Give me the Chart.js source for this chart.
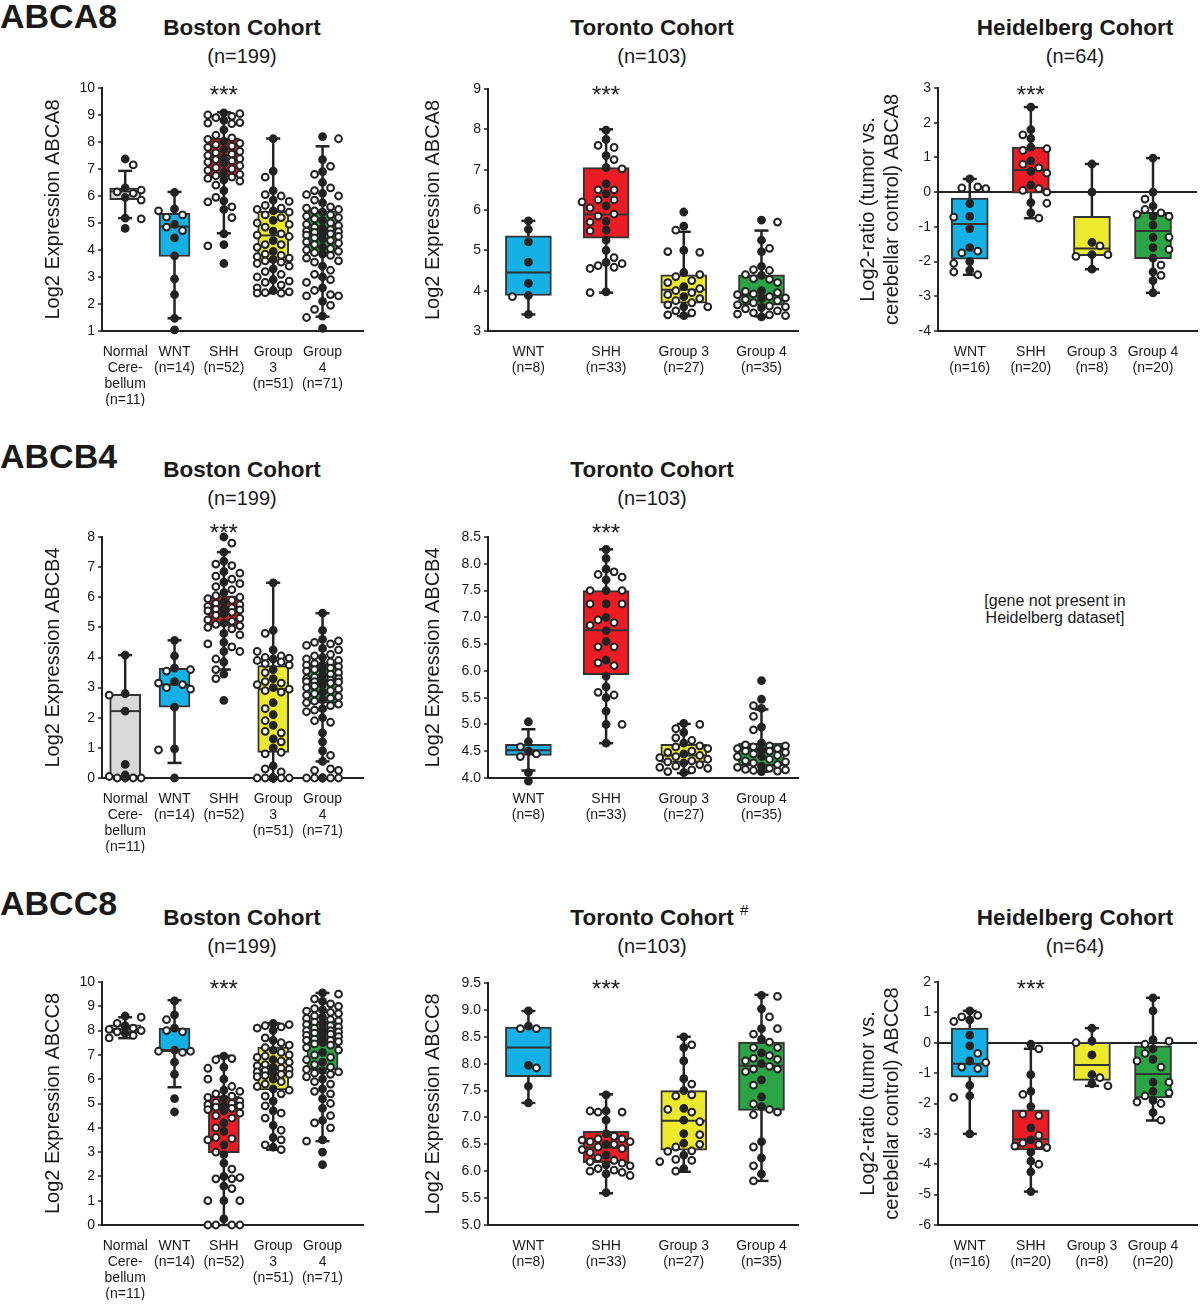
<!DOCTYPE html>
<html><head><meta charset="utf-8">
<script src="https://cdn.jsdelivr.net/npm/chart.js@4.4.1/dist/chart.umd.min.js"></script>
<style>
body{margin:0;background:#fff;width:1200px;height:1304px;position:relative;overflow:hidden;font-family:"Liberation Sans",Arial,sans-serif;color:#1a1a1a}
.t{position:absolute;white-space:nowrap;transform:translateX(-50%);text-align:center}
.gene{position:absolute;left:0;font-weight:bold;font-size:34px;line-height:32px;white-space:nowrap}
.ct{font-weight:bold;font-size:22.5px;line-height:24px}
.n{font-size:20px;line-height:22px}
.note{font-size:16px;line-height:17px}
.sup{position:absolute;font-size:15px;line-height:16px;white-space:nowrap}
canvas{position:absolute}
</style></head><body>
<div class="gene" style="top:0">ABCA8</div>
<div class="gene" style="top:440px">ABCB4</div>
<div class="gene" style="top:887px">ABCC8</div>

<div class="t ct" style="left:242px;top:16px">Boston Cohort</div>
<div class="t n" style="left:242px;top:45px">(n=199)</div>
<div class="t ct" style="left:652px;top:16px">Toronto Cohort</div>
<div class="t n" style="left:652px;top:45px">(n=103)</div>
<div class="t ct" style="left:1075px;top:16px">Heidelberg Cohort</div>
<div class="t n" style="left:1075px;top:45px">(n=64)</div>

<div class="t ct" style="left:242px;top:458px">Boston Cohort</div>
<div class="t n" style="left:242px;top:487px">(n=199)</div>
<div class="t ct" style="left:652px;top:458px">Toronto Cohort</div>
<div class="t n" style="left:652px;top:487px">(n=103)</div>
<div class="t note" style="left:1055px;top:592px">[gene not present in<br>Heidelberg dataset]</div>

<div class="t ct" style="left:652px;top:906px">Toronto Cohort</div>
<div class="sup" style="left:740px;top:902px">#</div>
<div class="t ct" style="left:242px;top:906px">Boston Cohort</div>
<div class="t n" style="left:242px;top:935px">(n=199)</div>
<div class="t n" style="left:652px;top:935px">(n=103)</div>
<div class="t ct" style="left:1075px;top:906px">Heidelberg Cohort</div>
<div class="t n" style="left:1075px;top:935px">(n=64)</div>

<script>
// ---------------- categories / tick labels ----------------
const bostonCategories = ['Normal Cerebellum', 'WNT', 'SHH', 'Group 3', 'Group 4'];
const bostonTickLabels = [['Normal', 'Cere-', 'bellum', '(n=11)'], ['WNT', '(n=14)'], ['SHH', '(n=52)'], ['Group', '3', '(n=51)'], ['Group', '4', '(n=71)']];
const torontoCategories = ['WNT', 'SHH', 'Group 3', 'Group 4'];
const torontoTickLabels = [['WNT', '(n=8)'], ['SHH', '(n=33)'], ['Group 3', '(n=27)'], ['Group 4', '(n=35)']];
const heidelbergCategories = ['WNT', 'SHH', 'Group 3', 'Group 4'];
const heidelbergTickLabels = [['WNT', '(n=16)'], ['SHH', '(n=20)'], ['Group 3', '(n=8)'], ['Group 4', '(n=20)']];

// box stats per group: [whisker low, Q1, median, Q3, whisker high]
// ---------------- ABCA8 ----------------
const abca8BostonStats = [[5.18, 5.86, 6.17, 6.29, 6.93], [1.47, 3.76, 4.87, 5.36, 6.15], [4.62, 6.7, 7.35, 8.15, 9.1], [2.4, 3.54, 4.54, 5.43, 8.13], [1.53, 3.88, 4.6, 5.45, 7.84]];
const abca8BostonNormal = [7.37, 7.15, 6.3, 6.22, 6.15, 6.1, 5.95, 5.85, 5.18, 5.15, 4.8];
const abca8BostonWNT = [6.13, 5.52, 5.45, 5.3, 5.22, 4.95, 4.85, 4.72, 4.45, 3.78, 2.93, 2.35, 1.47, 1.04];
const abca8BostonSHH = [9.08, 9.05, 9.0, 8.95, 8.9, 8.8, 8.72, 8.7, 8.68, 8.45, 8.25, 8.15, 8.1, 8.02, 7.95, 7.9, 7.85, 7.8, 7.72, 7.65, 7.55, 7.5, 7.42, 7.38, 7.35, 7.3, 7.25, 7.2, 7.12, 7.05, 7.0, 6.95, 6.88, 6.8, 6.75, 6.7, 6.65, 6.6, 6.55, 6.4, 6.2, 5.95, 5.82, 5.78, 5.6, 5.5, 5.2, 4.6, 4.2, 4.15, 3.5, 7.6];
const abca8BostonG3 = [8.12, 6.92, 6.7, 6.2, 6.05, 6.0, 5.85, 5.8, 5.65, 5.55, 5.5, 5.45, 5.4, 5.3, 5.2, 5.1, 5.0, 4.95, 4.85, 4.7, 4.6, 4.55, 4.5, 4.35, 4.2, 4.2, 4.1, 3.95, 3.85, 3.8, 3.75, 3.7, 3.65, 3.6, 3.55, 3.5, 3.4, 3.3, 3.2, 3.1, 3.0, 2.9, 2.85, 2.8, 2.7, 2.6, 2.5, 2.42, 2.4, 2.4, 2.45];
const abca8BostonG4 = [8.2, 8.12, 7.35, 7.1, 6.9, 6.8, 6.5, 6.3, 6.2, 6.1, 6.05, 6.0, 5.85, 5.75, 5.6, 5.55, 5.5, 5.45, 5.4, 5.3, 5.25, 5.2, 5.15, 5.1, 5.0, 4.95, 4.9, 4.85, 4.8, 4.75, 4.7, 4.68, 4.65, 4.62, 4.6, 4.55, 4.5, 4.45, 4.4, 4.35, 4.3, 4.2, 4.1, 4.05, 4.0, 3.95, 3.9, 3.85, 3.8, 3.7, 3.6, 3.55, 3.4, 3.25, 3.1, 3.0, 2.9, 2.8, 2.6, 2.5, 2.35, 2.3, 2.3, 2.1, 1.95, 1.8, 1.55, 1.5, 1.1, 0.77, 4.25];

const abca8TorontoStats = [[3.41, 3.88, 4.45, 5.36, 5.73], [3.95, 5.3, 5.89, 7.05, 8.0], [3.37, 3.69, 4.02, 4.39, 5.46], [3.36, 3.64, 3.88, 4.39, 5.49]];
const abca8TorontoWNT = [5.73, 5.52, 5.21, 4.71, 4.18, 3.88, 3.85, 3.41];
const abca8TorontoSHH = [7.98, 7.75, 7.6, 7.55, 7.35, 7.25, 7.05, 7.02, 6.65, 6.5, 6.5, 6.4, 6.25, 6.25, 6.2, 6.1, 6.05, 5.9, 5.85, 5.72, 5.7, 5.5, 5.48, 5.25, 5.0, 4.82, 4.7, 4.67, 4.62, 4.58, 4.55, 3.97, 3.95];
const abca8TorontoG3 = [5.95, 5.6, 5.5, 5.0, 4.97, 4.95, 4.45, 4.4, 4.35, 4.25, 4.2, 4.1, 4.05, 4.0, 3.95, 3.9, 3.85, 3.8, 3.75, 3.7, 3.65, 3.6, 3.6, 3.5, 3.45, 3.4, 3.38];
const abca8TorontoG4 = [5.75, 5.7, 5.25, 5.05, 4.97, 4.6, 4.52, 4.5, 4.4, 4.38, 4.3, 4.28, 4.2, 4.0, 3.98, 3.95, 3.92, 3.9, 3.85, 3.82, 3.8, 3.78, 3.75, 3.7, 3.65, 3.62, 3.6, 3.58, 3.55, 3.5, 3.45, 3.42, 3.4, 3.38, 3.35];

const abca8HeidelbergStats = [[-2.38, -1.93, -0.92, -0.17, 0.38], [-0.75, -0.03, 0.64, 1.3, 2.45], [-2.22, -1.83, -1.62, -0.7, 0.81], [-2.9, -1.92, -1.12, -0.58, 0.98]];
const abca8HeidelbergWNT = [0.38, 0.15, 0.12, 0.1, -0.33, -0.7, -0.72, -1.05, -1.6, -1.7, -1.75, -2.0, -2.05, -2.25, -2.3, -2.38];
const abca8HeidelbergSHH = [2.45, 1.8, 1.65, 1.55, 1.3, 1.25, 1.2, 0.9, 0.8, 0.7, 0.6, 0.55, 0.2, 0.1, 0.05, 0.0, -0.3, -0.32, -0.6, -0.75];
const abca8HeidelbergG3 = [0.81, 0.0, -1.45, -1.55, -1.8, -1.8, -1.85, -2.22];
const abca8HeidelbergG4 = [0.98, 0.0, -0.2, -0.4, -0.5, -0.6, -0.65, -0.7, -0.7, -0.95, -1.3, -1.3, -1.6, -1.65, -1.9, -2.1, -2.3, -2.4, -2.55, -2.9];

// ---------------- ABCB4 ----------------
const abcb4BostonStats = [[0, 0, 2.22, 2.78, 4.08], [0.5, 2.35, 3.1, 3.64, 4.57], [3.6, 5.05, 5.6, 6.05, 7.5], [0, 0.85, 2.95, 3.73, 6.48], [0.55, 2.48, 3.2, 3.8, 5.47]];
const abcb4BostonNormal = [4.08, 2.8, 2.75, 2.22, 0.45, 0.1, 0.05, 0, 0, 0, 0];
const abcb4BostonWNT = [4.57, 4.05, 3.65, 3.6, 3.55, 3.2, 3.15, 3.1, 3.0, 2.95, 2.35, 0.97, 0.93, 0];
const abcb4BostonSHH = [8.0, 7.8, 7.5, 7.2, 7.1, 7.05, 6.85, 6.8, 6.7, 6.6, 6.5, 6.45, 6.35, 6.25, 6.15, 6.05, 6.0, 5.95, 5.9, 5.85, 5.8, 5.75, 5.7, 5.65, 5.62, 5.6, 5.58, 5.55, 5.5, 5.45, 5.4, 5.3, 5.25, 5.2, 5.15, 5.1, 5.05, 5.0, 4.95, 4.8, 4.75, 4.5, 4.45, 4.35, 4.2, 4.2, 3.95, 3.85, 3.6, 3.45, 3.3, 2.58];
const abcb4BostonG3 = [6.48, 4.9, 4.8, 4.25, 4.2, 4.05, 4.0, 3.98, 3.95, 3.9, 3.85, 3.8, 3.75, 3.6, 3.5, 3.3, 3.2, 3.15, 3.1, 3.0, 2.95, 2.9, 2.85, 2.5, 2.3, 2.1, 1.9, 1.75, 1.55, 1.5, 1.3, 1.2, 1.0, 0.85, 0.8, 0.4, 0.3, 0.2, 0, 0, 0, 0, 0, 0, 0, 0, 0, 0, 0, 0, 0];
const abcb4BostonG4 = [5.47, 4.9, 4.6, 4.55, 4.5, 4.45, 4.4, 4.3, 4.25, 4.1, 4.05, 4.0, 3.95, 3.9, 3.85, 3.8, 3.75, 3.7, 3.65, 3.6, 3.55, 3.5, 3.45, 3.4, 3.35, 3.3, 3.25, 3.22, 3.2, 3.18, 3.15, 3.1, 3.05, 3.0, 2.95, 2.9, 2.85, 2.8, 2.75, 2.7, 2.6, 2.5, 2.45, 2.4, 2.3, 2.25, 2.2, 2.0, 1.9, 1.85, 1.5, 1.2, 0.9, 0.75, 0.55, 0.3, 0.25, 0.25, 0, 0, 0, 0, 0, 0, 0, 3.6, 3.3, 2.55, 3.75, 3.2, 2.65];

const abcb4TorontoStats = [[4.14, 4.42, 4.52, 4.63, 4.91], [4.65, 5.93, 6.76, 7.5, 8.27], [4.09, 4.29, 4.42, 4.63, 5.01], [4.12, 4.23, 4.54, 4.65, 5.28]];
const abcb4TorontoWNT = [5.05, 4.68, 4.58, 4.5, 4.45, 4.4, 4.1, 3.94];
const abcb4TorontoSHH = [8.27, 8.1, 7.9, 7.85, 7.8, 7.75, 7.7, 7.5, 7.5, 7.5, 7.25, 7.25, 7.25, 7.0, 6.95, 6.9, 6.85, 6.75, 6.55, 6.45, 6.45, 6.2, 6.15, 6.1, 5.9, 5.7, 5.6, 5.55, 5.5, 5.25, 5.0, 5.0, 4.65];
const abcb4TorontoG3 = [5.02, 5.0, 4.92, 4.85, 4.75, 4.7, 4.65, 4.6, 4.58, 4.55, 4.5, 4.48, 4.45, 4.42, 4.4, 4.38, 4.35, 4.32, 4.3, 4.28, 4.25, 4.22, 4.2, 4.18, 4.15, 4.12, 4.1];
const abcb4TorontoG4 = [5.82, 5.47, 5.35, 5.3, 5.15, 4.95, 4.9, 4.65, 4.62, 4.6, 4.6, 4.58, 4.55, 4.55, 4.52, 4.5, 4.5, 4.48, 4.45, 4.42, 4.4, 4.4, 4.35, 4.32, 4.3, 4.28, 4.25, 4.22, 4.2, 4.18, 4.16, 4.15, 4.14, 4.13, 4.12];

// ---------------- ABCC8 ----------------
const abcc8BostonStats = [[7.69, 7.9, 8.06, 8.24, 8.55], [5.67, 7.12, 7.2, 8.1, 9.25], [0, 2.98, 4.85, 5.29, 6.96], [3.1, 5.56, 6.39, 7.32, 8.3], [3.45, 6.39, 7.62, 8.38, 9.55]];
const abcc8BostonNormal = [8.6, 8.55, 8.3, 8.2, 8.1, 8.05, 8.0, 7.95, 7.9, 7.8, 7.7];
const abcc8BostonWNT = [9.22, 8.65, 8.45, 8.1, 8.0, 7.95, 7.2, 7.15, 7.15, 7.1, 6.7, 6.2, 5.2, 4.65];
const abcc8BostonSHH = [6.95, 6.85, 6.8, 6.5, 6.45, 6.0, 6.0, 5.7, 5.55, 5.5, 5.4, 5.3, 5.25, 5.2, 5.1, 5.0, 4.95, 4.9, 4.85, 4.8, 4.75, 4.7, 4.6, 4.5, 4.4, 4.2, 4.0, 3.85, 3.6, 3.55, 3.5, 3.3, 3.0, 2.9, 2.55, 2.3, 2.0, 1.95, 1.9, 1.9, 1.6, 1.5, 1.0, 1.0, 1.0, 0.25, 0.0, 0.0, 0.0, 0.0, 4.9, 5.05];
const abcc8BostonG3 = [8.3, 8.25, 8.2, 8.15, 8.1, 8.0, 7.7, 7.6, 7.5, 7.4, 7.3, 7.2, 7.1, 7.0, 6.95, 6.9, 6.8, 6.75, 6.7, 6.6, 6.55, 6.5, 6.45, 6.4, 6.35, 6.3, 6.25, 6.2, 6.15, 6.1, 6.0, 5.9, 5.8, 5.7, 5.6, 5.55, 5.4, 5.3, 5.1, 4.9, 4.7, 4.6, 4.4, 4.1, 3.9, 3.6, 3.5, 3.3, 3.2, 3.1, 6.2];
const abcc8BostonG4 = [9.55, 9.5, 9.3, 9.2, 9.1, 9.0, 8.9, 8.85, 8.8, 8.75, 8.7, 8.6, 8.5, 8.45, 8.4, 8.35, 8.3, 8.25, 8.2, 8.15, 8.1, 8.05, 8.0, 7.95, 7.9, 7.85, 7.8, 7.75, 7.7, 7.65, 7.6, 7.55, 7.5, 7.45, 7.4, 7.3, 7.2, 7.1, 7.0, 6.9, 6.8, 6.7, 6.6, 6.5, 6.4, 6.35, 6.3, 6.2, 6.1, 6.0, 5.9, 5.8, 5.6, 5.5, 5.4, 5.2, 5.0, 4.8, 4.5, 4.3, 4.2, 4.0, 3.5, 3.45, 3.0, 2.48, 7.9, 8.0, 7.6, 6.25, 8.55];

const abcc8TorontoStats = [[7.27, 7.76, 8.3, 8.68, 8.98], [5.59, 6.16, 6.44, 6.74, 7.43], [5.99, 6.39, 6.94, 7.5, 8.5], [5.82, 7.13, 7.96, 8.4, 9.28]];
const abcc8TorontoWNT = [8.98, 8.7, 8.65, 8.65, 7.97, 7.92, 7.58, 7.27];
const abcc8TorontoSHH = [7.42, 7.12, 7.12, 7.1, 7.1, 6.95, 6.7, 6.65, 6.6, 6.6, 6.58, 6.55, 6.55, 6.5, 6.5, 6.45, 6.42, 6.4, 6.35, 6.3, 6.25, 6.2, 6.18, 6.15, 6.12, 6.1, 6.05, 6.02, 6.0, 5.98, 5.95, 5.92, 5.6];
const abcc8TorontoG3 = [8.5, 8.35, 8.3, 8.05, 7.72, 7.62, 7.5, 7.42, 7.4, 7.17, 7.15, 7.1, 6.95, 6.92, 6.7, 6.68, 6.52, 6.5, 6.45, 6.38, 6.37, 6.3, 6.22, 6.2, 6.18, 6.05, 6.0];
const abcc8TorontoG4 = [9.27, 9.25, 9.02, 8.87, 8.65, 8.65, 8.55, 8.45, 8.4, 8.3, 8.2, 8.15, 8.1, 8.08, 8.05, 8.0, 7.95, 7.9, 7.9, 7.85, 7.7, 7.6, 7.38, 7.25, 7.15, 7.1, 7.05, 6.55, 6.45, 6.25, 6.1, 5.95, 5.82, 7.2, 8.3];

const abcc8HeidelbergStats = [[-3.0, -1.13, -0.69, 0.48, 1.05], [-4.9, -3.53, -3.18, -2.21, -0.2], [-1.42, -1.24, -0.73, 0.01, 0.48], [-2.56, -1.82, -1.03, -0.1, 1.48]];
const abcc8HeidelbergWNT = [1.05, 0.9, 0.85, 0.75, 0.7, 0.25, -0.1, -0.35, -0.6, -0.65, -0.8, -0.85, -1.4, -1.75, -1.8, -3.0];
const abcc8HeidelbergSHH = [-0.05, -0.2, -1.05, -1.6, -1.7, -2.1, -2.35, -2.4, -2.8, -3.05, -3.2, -3.3, -3.35, -3.4, -3.45, -3.6, -3.9, -4.0, -4.25, -4.9];
const abcc8HeidelbergG3 = [0.48, 0.05, 0.0, -0.4, -1.05, -1.15, -1.35, -1.42];
const abcc8HeidelbergG4 = [1.48, 1.05, 0.1, 0.05, -0.05, -0.2, -0.35, -0.55, -0.6, -0.8, -1.3, -1.3, -1.6, -1.65, -1.75, -1.9, -1.95, -2.0, -2.3, -2.55];

// ---------------- styles / layout ----------------
const grey = '#d9d9d9', cyan = '#13b1e6', red = '#ec1c24', yellow = '#ede92c', green = '#2ba544';
const bostonColors = [grey, cyan, red, yellow, green];
const subgroupColors = [cyan, red, yellow, green];

const BOS = {xMin: -0.47, xMax: 4.82, box: 31, steps: 2, titleX: 53, L: 102, R: 363};
const TOR = {xMin: -0.52, xMax: 3.47, box: 46, steps: 3, titleX: 433, L: 488, R: 798};
const HEI = {xMin: -0.52, xMax: 3.72, box: 37, steps: 2, titleX: 868, L: 938, R: 1197};

const panels = [
  {geo: BOS, T: 88, B: 331, yMin: 1, yMax: 10, yStep: 1, dec: 0, labels: bostonTickLabels, colors: bostonColors, stats: abca8BostonStats,
   groups: [abca8BostonNormal, abca8BostonWNT, abca8BostonSHH, abca8BostonG3, abca8BostonG4], title: 'Log2 Expression ABCA8', star: 2, starY: 90},
  {geo: TOR, T: 89, B: 331, yMin: 3, yMax: 9, yStep: 1, dec: 0, labels: torontoTickLabels, colors: subgroupColors, stats: abca8TorontoStats,
   groups: [abca8TorontoWNT, abca8TorontoSHH, abca8TorontoG3, abca8TorontoG4], title: 'Log2 Expression ABCA8', star: 1, starY: 90},
  {geo: HEI, T: 88, B: 331, yMin: -4, yMax: 3, yStep: 1, dec: 0, labels: heidelbergTickLabels, colors: subgroupColors, stats: abca8HeidelbergStats,
   groups: [abca8HeidelbergWNT, abca8HeidelbergSHH, abca8HeidelbergG3, abca8HeidelbergG4], title: ['Log2-ratio (tumor vs.', 'cerebellar control) ABCA8'], star: 1, starY: 90, zero: true},
  {geo: BOS, T: 537, B: 778, yMin: 0, yMax: 8, yStep: 1, dec: 0, labels: bostonTickLabels, colors: bostonColors, stats: abcb4BostonStats,
   groups: [abcb4BostonNormal, abcb4BostonWNT, abcb4BostonSHH, abcb4BostonG3, abcb4BostonG4], title: 'Log2 Expression ABCB4', star: 2, starY: 528},
  {geo: TOR, T: 537, B: 778, yMin: 4, yMax: 8.5, yStep: 0.5, dec: 1, labels: torontoTickLabels, colors: subgroupColors, stats: abcb4TorontoStats,
   groups: [abcb4TorontoWNT, abcb4TorontoSHH, abcb4TorontoG3, abcb4TorontoG4], title: 'Log2 Expression ABCB4', star: 1, starY: 528},
  {geo: BOS, T: 982, B: 1225, yMin: 0, yMax: 10, yStep: 1, dec: 0, labels: bostonTickLabels, colors: bostonColors, stats: abcc8BostonStats,
   groups: [abcc8BostonNormal, abcc8BostonWNT, abcc8BostonSHH, abcc8BostonG3, abcc8BostonG4], title: 'Log2 Expression ABCC8', star: 2, starY: 984},
  {geo: TOR, T: 983, B: 1225, yMin: 5, yMax: 9.5, yStep: 0.5, dec: 1, labels: torontoTickLabels, colors: subgroupColors, stats: abcc8TorontoStats,
   groups: [abcc8TorontoWNT, abcc8TorontoSHH, abcc8TorontoG3, abcc8TorontoG4], title: 'Log2 Expression ABCC8', star: 1, starY: 984},
  {geo: HEI, T: 982, B: 1225, yMin: -6, yMax: 2, yStep: 1, dec: 0, labels: heidelbergTickLabels, colors: subgroupColors, stats: abcc8HeidelbergStats,
   groups: [abcc8HeidelbergWNT, abcc8HeidelbergSHH, abcc8HeidelbergG3, abcc8HeidelbergG4], title: ['Log2-ratio (tumor vs.', 'cerebellar control) ABCC8'], star: 1, starY: 984, zero: true},
];

Chart.defaults.font.family = '"Liberation Sans", Arial, sans-serif';
Chart.defaults.color = '#1a1a1a';

const starPlugin = {
  id: 'stars',
  afterDatasetsDraw(chart, args, opts) {
    if (opts.index == null) return;
    const ctx = chart.ctx;
    const x = chart.scales.x.getPixelForValue(opts.index);
    ctx.save();
    ctx.font = '24px "Liberation Sans", Arial, sans-serif';
    ctx.fillStyle = '#1a1a1a';
    ctx.textAlign = 'center';
    ctx.textBaseline = 'alphabetic';
    ctx.fillText('***', x, opts.y + 13);
    ctx.restore();
  }
};
Chart.register(starPlugin);

// beeswarm offsets (computed layout of the dots around each category centre)
function swarm(values, center, pxX, pxY, steps) {
  const sorted = values.slice().sort((a, b) => b - a);
  const placed = [], out = [];
  const step = 8, minD = 8.3;
  sorted.forEach((v, idx) => {
    const py = v * pxY;
    const sgn = idx % 2 ? 1 : -1;
    const cands = [0];
    for (let k = 1; k <= steps; k++) cands.push(sgn * k * step, -sgn * k * step);
    let best = 0, bestScore = -1;
    for (const dx of cands) {
      let dmin = Infinity;
      for (const p of placed) { const d = Math.hypot(p.x - dx, p.y - py); if (d < dmin) dmin = d; }
      if (dmin >= minD) { best = dx; break; }
      if (dmin > bestScore) { bestScore = dmin; best = dx; }
    }
    placed.push({x: best, y: py});
    out.push({x: center + best / pxX, y: v, filled: best === 0});
  });
  return out;
}

function noPad(s) { s.paddingLeft = 0; s.paddingRight = 0; s.paddingTop = 0; s.paddingBottom = 0; }

panels.forEach(p => {
  const g = p.geo;
  const left = g.titleX - 12, top = p.T - 15;
  const w = g.R + 4 - left, h = p.B + 75 - top;
  const cv = document.createElement('canvas');
  cv.width = w; cv.height = h;
  cv.style.left = left + 'px'; cv.style.top = top + 'px';
  cv.style.width = w + 'px'; cv.style.height = h + 'px';
  document.body.appendChild(cv);

  const pxX = (g.R - g.L) / (g.xMax - g.xMin);
  const pxY = (p.B - p.T) / (p.yMax - p.yMin);
  const pts = [];
  p.groups.forEach((vals, i) => pts.push(...swarm(vals, i, pxX, pxY, g.steps)));

  const datasets = [];
  datasets.push({type: 'bar', data: p.stats.map((s, i) => ({x: i, y: [s[1], s[3]]})), backgroundColor: p.colors,
    borderColor: '#333', borderWidth: 2, borderSkipped: false, barThickness: g.box, order: 2, clip: false});
  p.stats.forEach((s, i) => datasets.push({type: 'line', data: [{x: i, y: s[0]}, {x: i, y: s[4]}],
    borderColor: '#222', borderWidth: 2.5, pointRadius: 0, order: 3, clip: false}));
  datasets.push({type: 'scatter', data: p.stats.flatMap((s, i) => [{x: i, y: s[0]}, {x: i, y: s[4]}]), pointStyle: 'line',
    pointRadius: 7, borderColor: '#222', borderWidth: 2.5, order: 3, clip: false});
  datasets.push({type: 'scatter', data: p.stats.map((s, i) => ({x: i, y: s[2]})), pointStyle: 'line',
    pointRadius: g.box / 2 - 1, borderColor: '#333', borderWidth: 2, order: 1, clip: false});
  datasets.push({type: 'scatter', data: pts.map(q => ({x: q.x, y: q.y})), pointRadius: 3.4, borderWidth: 2,
    borderColor: '#222', backgroundColor: pts.map(q => q.filled ? '#222' : '#fff'), order: 0, clip: false});

  new Chart(cv, {
    type: 'bar',
    data: {datasets},
    options: {
      responsive: false, maintainAspectRatio: false, animation: false, devicePixelRatio: 1, events: [],
      layout: {autoPadding: false, padding: {left: 0, top: 15, right: 4, bottom: 0}},
      plugins: {legend: {display: false}, tooltip: {enabled: false}, stars: {index: p.star, y: p.starY - top}},
      scales: {
        x: {
          type: 'linear', min: g.xMin, max: g.xMax, offset: false,
          grid: {display: true, drawOnChartArea: false, drawTicks: false, offset: false},
          border: {display: true, color: '#222', width: 2},
          afterBuildTicks: s => { s.ticks = p.labels.map((_, i) => ({value: i})); },
          afterFit: s => { s.height = 75; noPad(s); },
          ticks: {autoSkip: false, maxRotation: 0, minRotation: 0, padding: 13, color: '#1a1a1a',
            font: {size: 14, lineHeight: 16 / 14}, callback: v => p.labels[v]}
        },
        y: {
          min: p.yMin, max: p.yMax,
          grid: {drawOnChartArea: !!p.zero, lineWidth: 2, tickColor: '#222', tickLength: 4, tickWidth: 1.5,
            color: c => (p.zero && c.tick && c.tick.value === 0) ? '#222' : 'rgba(0,0,0,0)'},
          border: {display: true, color: '#222', width: 2},
          ticks: {stepSize: p.yStep, padding: 3, color: '#1a1a1a', font: {size: 14}, callback: v => Number(v).toFixed(p.dec)},
          title: {display: true, text: p.title, color: '#1a1a1a', font: {size: 20, lineHeight: 1.2}, padding: 0},
          afterFit: s => { s.width = g.L - left; noPad(s); }
        }
      }
    }
  });
});
</script>
</body></html>
